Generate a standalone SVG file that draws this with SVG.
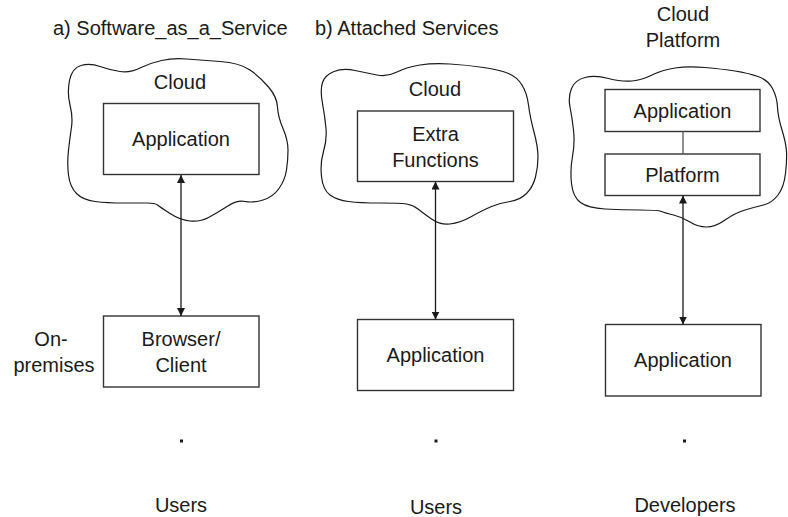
<svg xmlns="http://www.w3.org/2000/svg" width="788" height="517" viewBox="0 0 788 517">
  <defs>
    <style>
      text { font-family: "Liberation Sans", Arial, sans-serif; font-size: 20px; fill: #1a1a1a; }
      .mid { text-anchor: middle; }
      .cloud { fill: none; stroke: #1a1a1a; stroke-width: 1.2; stroke-linejoin: round; }
      .box { fill: #ffffff; stroke: #333333; stroke-width: 1.4; }
      .conn { fill: none; stroke: #1a1a1a; stroke-width: 1.3; }
      .plain { fill: none; stroke: #555555; stroke-width: 1.3; }
    </style>
    <marker id="ah" viewBox="0 0 10 10" refX="10" refY="5" markerWidth="8" markerHeight="8" markerUnits="userSpaceOnUse" orient="auto-start-reverse">
      <path d="M0,0 L10,5 L0,10 Z" fill="#1a1a1a"/>
    </marker>
  </defs>

  <rect width="788" height="517" fill="#ffffff"/>

  <g id="titles">
    <text x="53" y="35">a) Software_as_a_Service</text>
    <text x="315" y="35">b) Attached Services</text>
    <text class="mid" x="683" y="21">Cloud</text>
    <text class="mid" x="683" y="47">Platform</text>
  </g>

  <g id="cloud1">
    <path class="cloud" d="M69.5,80.5 Q72,68 81,65.5 Q90,63 100,66.5 Q110,70 120,71.5 Q130,73 140,68 Q150,63 161.5,60.5 Q173,58 186.5,59 Q200,60 220,61.5 Q240,63 250,70 Q260,77 268.5,87 Q277,97 277.5,107 Q278,117 283,128.5 Q288,140 288,150 Q288,160 286.5,170 Q285,180 279,188.5 Q273,197 263,200 Q253,203 245,201.5 Q237,200 227,206.5 Q217,213 208.5,217.5 Q200,222 190,221 Q180,220 170,213.5 Q160,207 157.5,205 Q155,203 147.5,203 Q140,203 123.5,203 Q107,203 95,201.5 Q83,200 76.5,193.5 Q70,187 68.5,175 Q67,163 68.5,150 Q70,137 71.5,127 Q73,117 70,105 Q67,93 69.5,80.5 Z"/>
    <text class="mid" x="180" y="89">Cloud</text>
  </g>
  <g id="app1">
    <rect class="box" x="103.5" y="103.5" width="155.5" height="71"/>
    <text class="mid" x="181" y="146">Application</text>
  </g>

  <g id="cloud2">
    <path class="cloud" d="M322.5,82.5 Q325,75 334,71.5 Q343,68 355,70.5 Q367,73 377,75 Q387,77 397,72 Q407,67 420,65 Q433,63 450,64 Q467,65 483.5,67.5 Q500,70 508.5,73.5 Q517,77 522,85 Q527,93 528.5,105 Q530,117 534,132 Q538,147 538,157 Q538,167 535.5,177 Q533,187 526.5,193.5 Q520,200 510,201.5 Q500,203 491.5,206.5 Q483,210 471.5,216.5 Q460,223 450,224 Q440,225 431.5,219 Q423,213 418,209 Q413,205 406.5,204 Q400,203 380,203 Q360,203 348.5,201.5 Q337,200 330,195 Q323,190 321.5,176.5 Q320,163 323.5,151.5 Q327,140 326,128.5 Q325,117 322.5,103.5 Q320,90 322.5,82.5 Z"/>
    <text class="mid" x="435" y="96">Cloud</text>
  </g>
  <g id="extra">
    <rect class="box" x="357.5" y="111" width="156" height="70.5"/>
    <text class="mid" x="435.5" y="140.5">Extra</text>
    <text class="mid" x="435.5" y="167">Functions</text>
  </g>

  <g id="cloud3">
    <path class="cloud" d="M571.5,88.5 Q575,80 585,77.5 Q595,75 608.5,78.5 Q622,82 632,81 Q642,80 652,75 Q662,70 675,68 Q688,66 705,67.5 Q722,69 735,71 Q748,73 758,76.5 Q768,80 772.5,88.5 Q777,97 777.5,107 Q778,117 782,130 Q786,143 786.5,151.5 Q787,160 785.5,173.5 Q784,187 778,195 Q772,203 763.5,205 Q755,207 745,210 Q735,213 725,220 Q715,227 706.5,227 Q698,227 690,222 Q682,217 673.5,215 Q665,213 661.5,211.5 Q658,210 640,210 Q622,210 605,209 Q588,208 580.5,202.5 Q573,197 571.5,183.5 Q570,170 572.5,156.5 Q575,143 573.5,130 Q572,117 570,107 Q568,97 571.5,88.5 Z"/>
  </g>
  <g id="app3">
    <rect class="box" x="605" y="89.5" width="155" height="42"/>
    <text class="mid" x="682.5" y="118">Application</text>
  </g>
  <g id="platform">
    <rect class="box" x="605" y="154" width="155" height="41.5"/>
    <text class="mid" x="682.5" y="182">Platform</text>
  </g>

  <g id="browser">
    <rect class="box" x="103.5" y="316" width="155.5" height="71"/>
    <text class="mid" x="181" y="345.5">Browser/</text>
    <text class="mid" x="181" y="371.5">Client</text>
  </g>
  <g id="onprem">
    <text class="mid" x="51" y="346">On-</text>
    <text class="mid" x="54" y="371.5">premises</text>
  </g>

  <g id="app2">
    <rect class="box" x="357.5" y="319.5" width="156" height="71"/>
    <text class="mid" x="435.5" y="362">Application</text>
  </g>

  <g id="app4">
    <rect class="box" x="605.5" y="324.5" width="155.5" height="71.5"/>
    <text class="mid" x="683" y="367">Application</text>
  </g>

  <g id="users1">
    <rect x="180" y="439.5" width="3" height="3" fill="#1a1a1a"/>
    <text class="mid" x="181" y="512">Users</text>
  </g>
  <g id="users2">
    <rect x="434.5" y="439.5" width="3" height="3" fill="#1a1a1a"/>
    <text class="mid" x="436" y="514">Users</text>
  </g>
  <g id="developers">
    <rect x="683" y="439.5" width="3" height="3" fill="#1a1a1a"/>
    <text class="mid" x="685" y="512">Developers</text>
  </g>

  <g id="connectors">
    <line class="conn" x1="181" y1="175" x2="181" y2="316" marker-start="url(#ah)" marker-end="url(#ah)"/>
    <line class="conn" x1="435.5" y1="181.5" x2="435.5" y2="319.5" marker-start="url(#ah)" marker-end="url(#ah)"/>
    <line class="conn" x1="683" y1="195.5" x2="683" y2="324.5" marker-start="url(#ah)" marker-end="url(#ah)"/>
    <line class="plain" x1="683" y1="131.5" x2="683" y2="154"/>
  </g>
</svg>
